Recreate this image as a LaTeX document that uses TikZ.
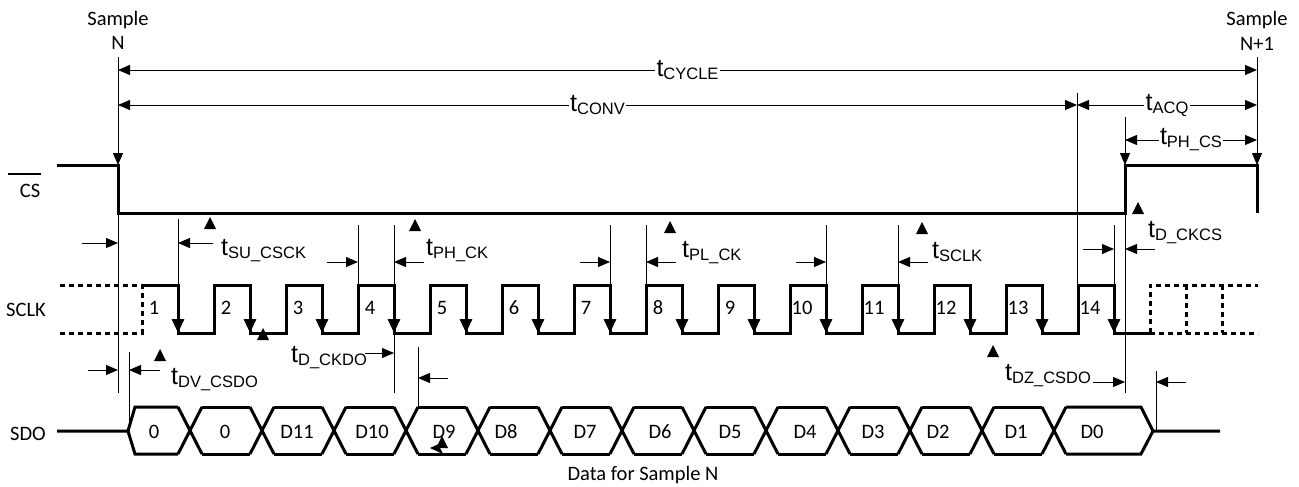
\documentclass[tikz,border=0pt]{standalone}
\usepackage{fontspec}
\setmainfont{Carlito}
\newfontfamily\arialfont{Liberation Sans}
\usetikzlibrary{arrows.meta,calc}
\newcommand{\tm}[1]{{\arialfont\fontsize{25}{25}\selectfont t\raisebox{-3pt}{\fontsize{16.5}{16.5}\selectfont #1}}}
\newcommand{\uptick}[1]{\fill (#1) -- ++(-6,12) -- ++(12,0) -- cycle;}
\tikzset{
  wave/.style={line width=3pt},
  dashwave/.style={wave,dash pattern=on 5pt off 4pt},
  dim/.style={line width=0.8pt,>={Triangle[length=12pt,width=10pt]}},
  fall/.style={wave,->,>={Triangle[length=14pt,width=12pt]}},
  txt/.style={font=\fontsize{20.5}{22}\selectfont,inner sep=0pt},
  tlbl/.style={anchor=base west,inner sep=0pt},
  onln/.style={midway,fill=white,inner sep=1.5pt},
}
\begin{document}
\begin{tikzpicture}[x=1pt,y=-1pt]
\useasboundingbox (0,0) rectangle (1299,487);
% signal names
\node [txt,anchor=base] (smpN) at (118,26) {Sample};
\node [txt,anchor=base] (smpNb) at (118,50) {N};
\node [txt,anchor=base] (smpM) at (1257,26) {Sample};
\node [txt,anchor=base] (smpMb) at (1257,51) {N+1};
\node [txt,anchor=base] (lcs) at (30,197) {CS};
\draw [line width=1.6pt] (8,174) -- (41,174);
\node [txt,anchor=base] (lsclk) at (26,316) {SCLK};
\node [txt,anchor=base] (lsdo) at (28,440) {SDO};
\node [txt,anchor=base] (ldata) at (643,480) {Data for Sample N};

% CS
\draw [wave] (57,165) -- (118,165) -- (118,213) -- (1125,213) -- (1125,165) -- (1257,165) -- (1257,213);

% SCLK
\draw [dashwave] (60,285) -| (142,333) -- (60,333);
\draw [wave] (142,285) \foreach \k in {1,...,13} { -- ++(36,0) -- ++(0,48) -- ++(36,0) -- ++(0,-48) } -- ++(36,0) -- ++(0,48) -- ++(36,0);
\foreach \k in {1,...,14} \draw [fall] ({106+72*\k},285) -- ++(0,48);
\foreach \k in {1,...,14} \node [txt,anchor=base] (ck\k) at ({82+72*\k},314) {\k};
\draw [dashwave] (1150,333) -- (1258,333) (1150,333) -- (1150,285) -- (1258,285)
  (1186,285) -- (1186,333) (1222,285) -- (1222,333);

% SDO
\draw [wave] (57,431) -- (128,431) -- (135,407) -- (178,407) (128,431) -- (135,454) -- (178,454);
\foreach \c in {190,262,...,1054} \draw [wave] (\c-12,407) -- (\c+12,454) (\c-12,454) -- (\c+12,407);
\foreach \c in {190,262,...,982} \draw [wave] (\c+12,407) -- (\c+60,407) (\c+12,454) -- (\c+60,454);
\draw [wave] (1066,407) -- (1141,407) -- (1153,431) -- (1141,454) -- (1066,454) (1153,431) -- (1220,431);
\foreach \x/\d [count=\i] in {154/0,225/0,297/D11,372/D10,444/D9,506/D8,585/D7,660/D6,730/D5,805/D4,873/D3,938/D2,1016/D1,1092/D0}
  \node [txt,anchor=base] (b\i) at (\x,438) {\d};

% cycle timing
\draw [dim,->] (118,57) -- (118,165);
\draw [dim,->] (1257,57) -- (1257,165);
\draw [dim,<->] (118,70) -- node [onln] (tcyc) {\tm{CYCLE}} (1257,70);
\draw [dim,<->] (118,105) -- node [onln] (tconv) {\tm{CONV}} (1077,105);
\draw [dim,<->] (1077,105) -- node [onln] (tacq) {\tm{ACQ}} (1257,105);
\draw [dim] (1077,93) -- (1077,285);
\draw [dim,->] (1125,117) -- (1125,165);
\draw [dim,<->] (1125,140) -- node [onln] (tphcs) {\tm{PH\_CS}} (1257,140);

% extension lines
\draw [dim] (118,213) -- (118,393) (1125,213) -- (1125,393) (394,225) -- (394,393);
\foreach \x/\t in {178/219,358/225,610/225,646/225,826/225,898/225,1114/225} \draw [dim] (\x,\t) -- (\x,285);
\draw [dim] (129,352) -- (129,431) (418,347) -- (418,407) (1156,371) -- (1156,431);

% short arrows
\foreach \a/\b/\y in {82/118/243,213/178/243,327/358/262,424/394/262,580/610/262,676/646/262,
  796/826/262,928/898/262,1083/1114/249,1155/1125/249,365/394/353,88/118/370,160/129/370,
  448/418/378,1093/1125/382,1186/1156/382}
  \draw [dim,->] (\a,\y) -- (\b,\y);

% timing labels
\node [tlbl] (tsu) at (221,255) {\tm{SU\_CSCK}};
\node [tlbl] (tph) at (426,255) {\tm{PH\_CK}};
\node [tlbl] (tpl) at (682,257) {\tm{PL\_CK}};
\node [tlbl] (tsclk) at (932,258) {\tm{SCLK}};
\node [tlbl] (tdckcs) at (1148,237) {\tm{D\_CKCS}};
\node [tlbl] (tdckdo) at (291,362) {\tm{D\_CKDO}};
\node [tlbl] (tdvcsdo) at (171,384) {\tm{DV\_CSDO}};
\node [tlbl] (tdzcsdo) at (1005,380) {\tm{DZ\_CSDO}};

% marks
\uptick{210,217}
\uptick{415,219}
\uptick{670,221}
\uptick{922,222}
\uptick{1138,202}
\uptick{160,349}
\uptick{263,328}
\uptick{993,345}
\uptick{442,436}
\fill (430,448) -- ++(13,-6) -- ++(-3,6) -- ++(3,6) -- cycle;
\end{tikzpicture}
\end{document}
